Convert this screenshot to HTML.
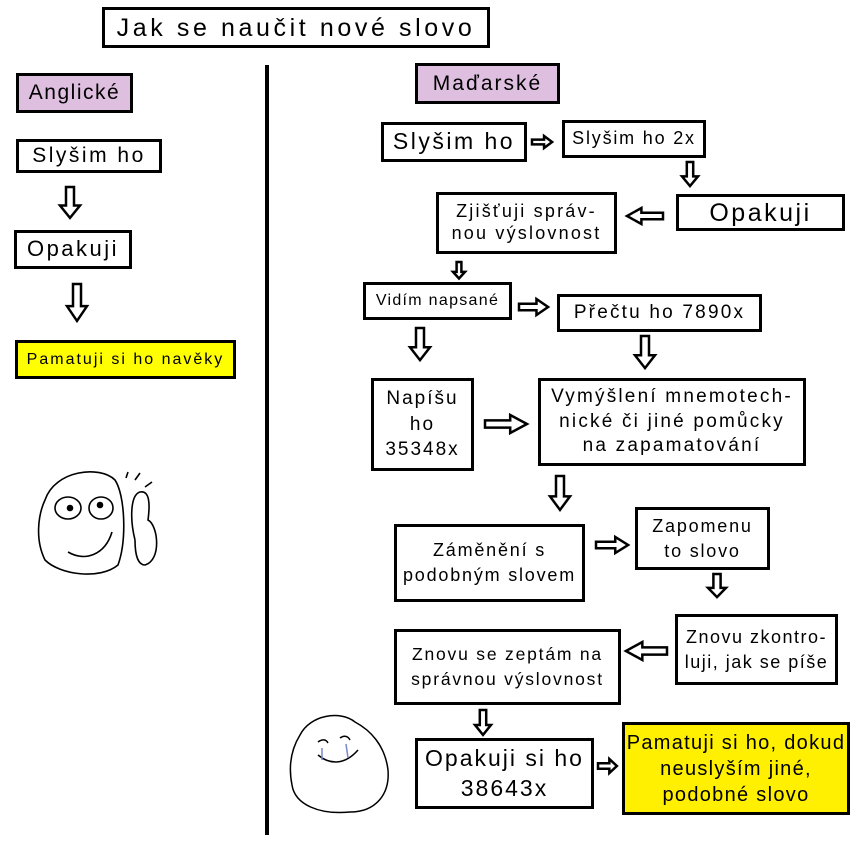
<!DOCTYPE html>
<html><head><meta charset="utf-8"><style>
body{margin:0;width:861px;height:843px;background:#fff;position:relative;overflow:hidden;font-family:"Liberation Sans",sans-serif;}
.b{position:absolute;box-sizing:border-box;border:3px solid #000;background:#fff;display:flex;align-items:center;justify-content:center;text-align:center;letter-spacing:2px;line-height:1.2;color:#000;white-space:nowrap;}
svg{position:absolute;left:0;top:0;}
</style></head><body>
<div class="b" style="left:102px;top:7px;width:388px;height:41px;font-size:25px;letter-spacing:3.6px">Jak se naučit nové slovo</div>
<div class="b" style="left:16px;top:73px;width:117px;height:40px;font-size:21px;background:#dfbfdf;letter-spacing:1.5px">Anglické</div>
<div class="b" style="left:16px;top:139px;width:146px;height:34px;font-size:21px;letter-spacing:2.5px">Slyšim ho</div>
<div class="b" style="left:14px;top:230px;width:118px;height:39px;font-size:22px;letter-spacing:2.5px">Opakuji</div>
<div class="b" style="left:15px;top:340px;width:221px;height:39px;font-size:16px;background:#ffff00;letter-spacing:2px">Pamatuji si ho navěky</div>

<div class="b" style="left:415px;top:63px;width:145px;height:41px;font-size:21px;background:#dfbfdf">Maďarské</div>
<div class="b" style="left:381px;top:122px;width:146px;height:40px;font-size:23px;letter-spacing:2.5px">Slyšim ho</div>
<div class="b" style="left:562px;top:120px;width:144px;height:38px;font-size:18px;letter-spacing:1.8px">Slyšim ho 2x</div>
<div class="b" style="left:676px;top:194px;width:169px;height:37px;font-size:25px;letter-spacing:2.5px">Opakuji</div>
<div class="b" style="left:436px;top:192px;width:181px;height:62px;font-size:18px;letter-spacing:2.2px">Zjišťuji správ-<br>nou výslovnost</div>
<div class="b" style="left:363px;top:282px;width:149px;height:38px;font-size:16px;letter-spacing:1.3px">Vidím napsané</div>
<div class="b" style="left:557px;top:294px;width:205px;height:38px;font-size:19px;letter-spacing:2.2px">Přečtu ho 7890x</div>
<div class="b" style="left:371px;top:378px;width:103px;height:93px;font-size:19px;line-height:1.35">Napíšu<br>ho<br>35348x</div>
<div class="b" style="left:538px;top:378px;width:268px;height:88px;font-size:19px;line-height:1.3;letter-spacing:2.2px">Vymýšlení mnemotech-<br>nické či jiné pomůcky<br>na zapamatování</div>
<div class="b" style="left:394px;top:524px;width:191px;height:78px;font-size:18px;line-height:1.4;letter-spacing:1.8px">Záměnění s<br>podobným slovem</div>
<div class="b" style="left:635px;top:507px;width:135px;height:63px;font-size:18px;line-height:1.35;letter-spacing:1.8px">Zapomenu<br>to slovo</div>
<div class="b" style="left:675px;top:614px;width:163px;height:71px;font-size:18px;line-height:1.35;letter-spacing:1.5px">Znovu zkontro-<br>luji, jak se píše</div>
<div class="b" style="left:394px;top:629px;width:227px;height:76px;font-size:17.5px;line-height:1.45;letter-spacing:1.8px">Znovu se zeptám na<br>správnou výslovnost</div>
<div class="b" style="left:415px;top:738px;width:179px;height:71px;font-size:23px;line-height:1.3;letter-spacing:2px">Opakuji si ho<br>38643x</div>
<div class="b" style="left:622px;top:722px;width:228px;height:93px;font-size:20px;line-height:1.3;letter-spacing:1.3px;background:#ffef00">Pamatuji si ho, dokud<br>neuslyším jiné,<br>podobné slovo</div>

<svg width="861" height="843" viewBox="0 0 861 843">
<defs><polygon id="a" points="0,-4 18,-4 18,-10 30,0 18,10 18,4 0,4" fill="#fff" stroke="#000" stroke-width="2.5" vector-effect="non-scaling-stroke"/></defs>
<rect x="265" y="65" width="4" height="770" fill="#000"/>
<use href="#a" transform="translate(70,187) rotate(90) scale(1.03,1)"/>
<use href="#a" transform="translate(77,284) rotate(90) scale(1.23,1)"/>
<use href="#a" transform="translate(532,142) scale(0.67,0.6)"/>
<use href="#a" transform="translate(690,162) rotate(90) scale(0.8,0.8)"/>
<use href="#a" transform="translate(663,216) rotate(180) scale(1.2,0.8)"/>
<use href="#a" transform="translate(459,262) rotate(90) scale(0.55,0.6)"/>
<use href="#a" transform="translate(519,307) scale(0.97,0.8)"/>
<use href="#a" transform="translate(420,328) rotate(90) scale(1.07,1)"/>
<use href="#a" transform="translate(645,336) rotate(90) scale(1.07,1)"/>
<use href="#a" transform="translate(485,424) scale(1.4,0.9)"/>
<use href="#a" transform="translate(560,476) rotate(90) scale(1.13,1)"/>
<use href="#a" transform="translate(596,545) scale(1.07,0.8)"/>
<use href="#a" transform="translate(717,574) rotate(90) scale(0.77,0.9)"/>
<use href="#a" transform="translate(667,651) rotate(180) scale(1.37,0.9)"/>
<use href="#a" transform="translate(483,710) rotate(90) scale(0.83,0.8)"/>
<use href="#a" transform="translate(598,766) scale(0.63,0.7)"/>
<g fill="none" stroke="#000" stroke-width="1.6">
<path d="M45,500 C55,470 100,465 115,480 C125,495 127,540 118,565 C100,580 60,575 45,560 C35,540 38,515 45,500 Z"/>
<ellipse cx="68" cy="508" rx="13" ry="11"/><circle cx="70" cy="508" r="2.5" fill="#000"/>
<ellipse cx="101" cy="508" rx="12" ry="11"/><circle cx="100" cy="505" r="2.5" fill="#000"/>
<path d="M68,552 C85,562 105,555 112,532"/>
<path d="M135,540 C130,520 130,495 140,492 C150,490 150,505 148,520 C158,525 162,560 145,565 C138,565 135,555 135,540"/>
<path d="M126,478 l2,-6 M135,480 l5,-7 M145,487 l7,-5"/>
</g>
<g fill="none" stroke="#000" stroke-width="1.5">
<path d="M300,735 C310,715 340,710 355,722 C370,730 385,745 388,770 C390,795 375,812 350,812 C320,815 295,805 292,785 C288,765 292,748 300,735 Z"/>
<path d="M318,742 c4,-3 8,-3 10,1 M340,738 c4,-3 8,-2 10,2 M318,755 C330,765 345,765 358,750"/>
<path d="M322,748 l0,12 M346,744 l2,14" stroke="#7788cc"/>
</g>
</svg>
</body></html>
